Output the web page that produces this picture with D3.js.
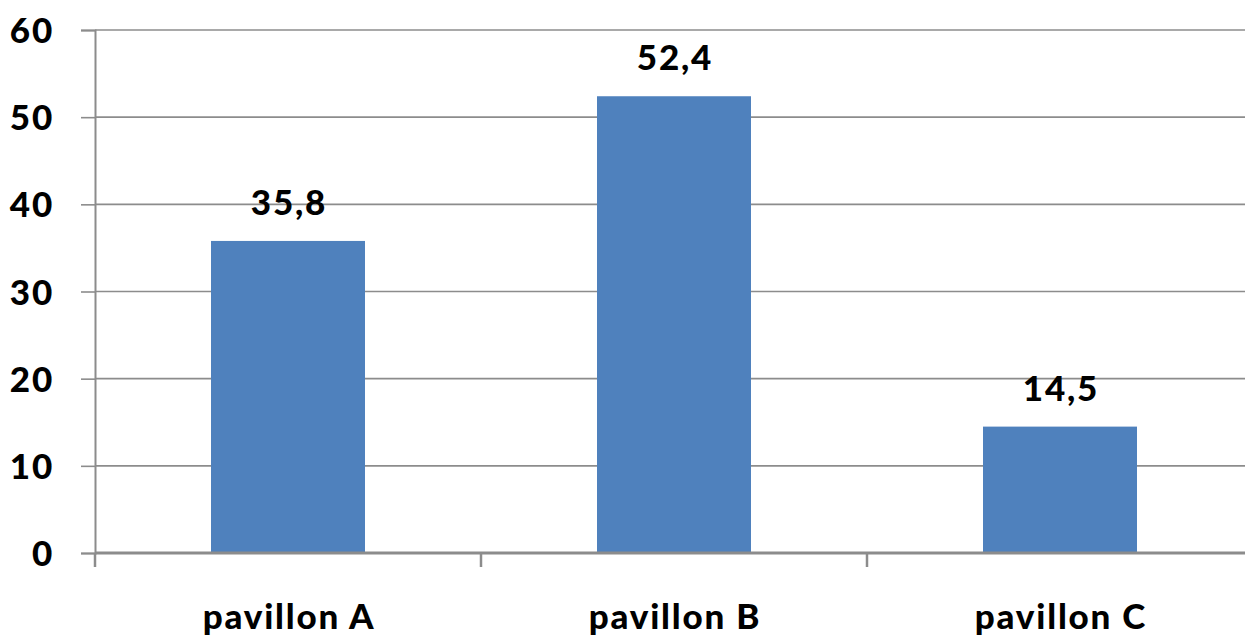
<!DOCTYPE html>
<html><head><meta charset="utf-8">
<script src="https://cdn.jsdelivr.net/npm/d3@7"></script>
<style>
html,body{margin:0;padding:0;background:#fff;}
text{font-family:Lato,"Liberation Sans",sans-serif;font-weight:900;fill:#000;letter-spacing:1.8px;}
</style></head>
<body>
<svg id="c" width="1245" height="644"></svg>
<script>
const categories = ["pavillon A", "pavillon B", "pavillon C"];
const values = [35.8, 52.4, 14.5];
const valueLabels = ["35,8", "52,4", "14,5"];
const yTicks = [0, 10, 20, 30, 40, 50, 60];

(function () {
const svg = d3.select("#c");
const mLeft = 95, mRight = 1253, mTop = 30, mBottom = 553;
const x = d3.scaleBand().domain(categories).range([mLeft, mRight]).paddingInner(0).paddingOuter(0);
const y = d3.scaleLinear().domain([0, 60]).range([mBottom, mTop]);
const grey = "#8c8c8c";
const fs = "35px";

// gridlines
svg.append("g").selectAll("line").data(yTicks.filter(d => d > 0)).join("line")
  .attr("x1", mLeft).attr("x2", 1245).attr("y1", d => y(d)).attr("y2", d => y(d))
  .attr("stroke", grey).attr("stroke-width", 1.6);

// y axis
const ya = svg.append("g").attr("transform", `translate(${mLeft},0)`)
  .call(d3.axisLeft(y).tickValues(yTicks).tickSize(14).tickPadding(27).tickFormat(d3.format("d")));
ya.select(".domain").attr("stroke", grey).attr("stroke-width", 2);
ya.selectAll(".tick line").attr("stroke", grey).attr("stroke-width", 1.6);
ya.selectAll(".tick text").style("font-size", fs).attr("dy", "0.36em");

// bars
const barW = 154;
svg.append("g").selectAll("rect").data(values).join("rect")
  .attr("x", (d, i) => x(categories[i]) + (x.bandwidth() - barW) / 2)
  .attr("width", barW)
  .attr("y", d => y(d))
  .attr("height", d => y(0) - y(d))
  .attr("fill", "#4f81bd");

// x axis
svg.append("line").attr("x1", mLeft).attr("x2", 1245).attr("y1", y(0)).attr("y2", y(0))
  .attr("stroke", grey).attr("stroke-width", 3);
svg.append("g").selectAll("line").data(categories.map(c => x(c))).join("line")
  .attr("x1", d => d).attr("x2", d => d).attr("y1", y(0)).attr("y2", y(0) + 14)
  .attr("stroke", grey).attr("stroke-width", 2.5);

// category labels
svg.append("g").selectAll("text").data(categories).join("text")
  .attr("x", d => x(d) + x.bandwidth() / 2 + 1).attr("y", 629)
  .attr("text-anchor", "middle").style("font-size", fs).text(d => d);

// value labels
svg.append("g").selectAll("text").data(values).join("text")
  .attr("x", (d, i) => x(categories[i]) + x.bandwidth() / 2 + 1)
  .attr("y", d => y(d) - 26)
  .attr("text-anchor", "middle").style("font-size", fs).text((d, i) => valueLabels[i]);
})();
</script>
</body></html>
